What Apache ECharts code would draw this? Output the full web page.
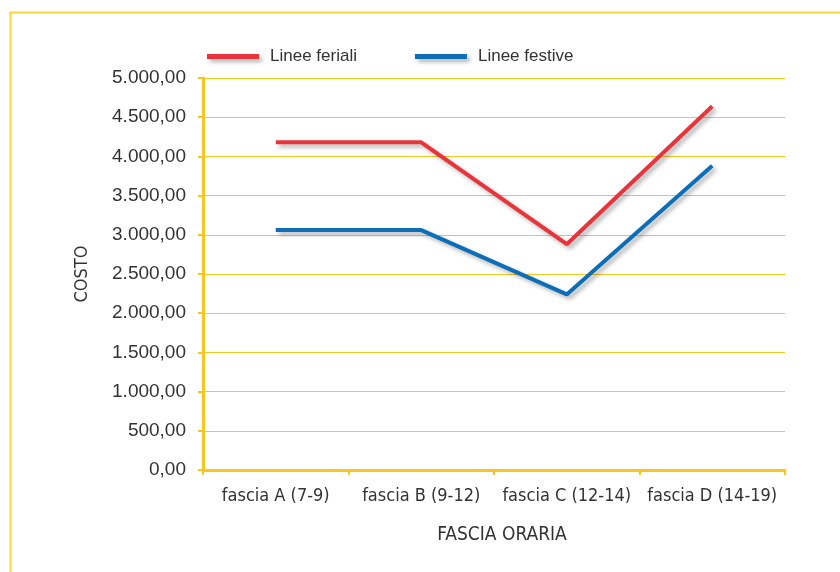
<!DOCTYPE html>
<html>
<head>
<meta charset="utf-8">
<script src="https://cdn.jsdelivr.net/npm/echarts@6/dist/echarts.min.js"></script>
<style>
  html, body { margin: 0; padding: 0; background: #fff; }
  #chart { width: 840px; height: 572px; }
</style>
</head>
<body>
<div id="chart"></div>
<script>
const categories = ['fascia A (7-9)', 'fascia B (9-12)', 'fascia C (12-14)', 'fascia D (14-19)']
const feriali = [4180, 4180, 2880, 4640]
const festive = [3060, 3060, 2240, 3880]

const yellow = '#f7c623'
const textColor = '#333'
const narrowFont = '"DejaVu Sans Condensed", Roboto, sans-serif'

const formatCost = value => {
  const parts = value.toFixed(2).split('.')
  return parts[0].replace(/\B(?=(\d{3})+(?!\d))/g, '.') + ',' + parts[1]
}

const lineShadow = {
  shadowColor: 'rgba(0, 0, 0, 0.3)',
  shadowBlur: 4,
  shadowOffsetX: 3,
  shadowOffsetY: 3
}

const chart = echarts.init(document.getElementById('chart'))

chart.setOption({
  animation: false,
  graphic: [
    {
      type: 'rect',
      left: 8,
      top: 10,
      shape: { width: 900, height: 700 },
      style: { fill: 'none', stroke: '#f8d443', lineWidth: 2 }
    }
  ],
  legend: {
    left: 202,
    top: 43,
    itemWidth: 52,
    itemHeight: 5,
    itemGap: 58,
    icon: 'rect',
    itemStyle: lineShadow,
    textStyle: {
      color: textColor,
      fontSize: 17,
      fontFamily: 'Liberation Sans',
      padding: [0, 0, 0, 6]
    },
    data: ['Linee feriali', 'Linee festive']
  },
  grid: {
    left: 203,
    right: 55,
    top: 78,
    bottom: 102
  },
  xAxis: {
    type: 'category',
    data: categories,
    boundaryGap: true,
    name: 'FASCIA ORARIA',
    nameLocation: 'middle',
    nameGap: 56,
    nameTextStyle: { color: textColor, fontSize: 19, fontFamily: narrowFont, padding: [0, 0, 0, 16] },
    axisLine: { lineStyle: { color: yellow, width: 3 } },
    axisTick: { show: true, interval: 0, length: 5, lineStyle: { color: yellow, width: 2 } },
    axisLabel: { interval: 0, color: textColor, fontSize: 18, margin: 17, fontFamily: narrowFont }
  },
  yAxis: {
    type: 'value',
    min: 0,
    max: 5000,
    interval: 500,
    name: 'COSTO',
    nameLocation: 'middle',
    nameGap: 112,
    nameTextStyle: { color: textColor, fontSize: 18, fontFamily: narrowFont },
    axisLine: { show: true, lineStyle: { color: yellow, width: 3 } },
    axisTick: { show: true, length: 5, lineStyle: { color: yellow, width: 2 } },
    axisLabel: {
      color: textColor,
      fontSize: 19,
      margin: 17,
      fontFamily: 'Liberation Sans',
      formatter: formatCost
    },
    splitLine: { lineStyle: { color: yellow, width: 1 } }
  },
  series: [
    {
      name: 'Linee feriali',
      type: 'line',
      data: feriali,
      symbol: 'none',
      color: '#e8343b',
      lineStyle: Object.assign({ width: 4, color: '#e8343b' }, lineShadow)
    },
    {
      name: 'Linee festive',
      type: 'line',
      data: festive,
      symbol: 'none',
      color: '#0d6db7',
      lineStyle: Object.assign({ width: 4, color: '#0d6db7' }, lineShadow)
    }
  ]
})
</script>
</body>
</html>
